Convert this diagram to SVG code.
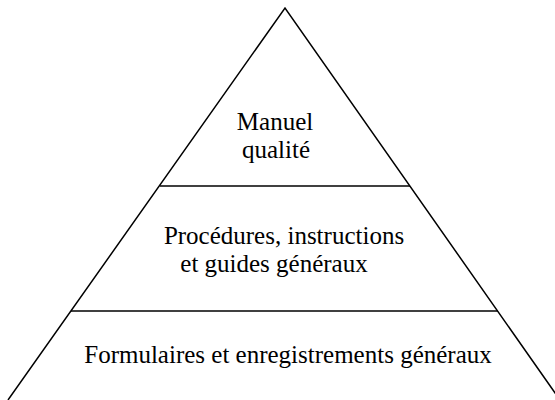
<svg xmlns="http://www.w3.org/2000/svg" width="555" height="400" viewBox="0 0 555 400">
<style>
.ln{stroke:#000;stroke-width:1.5;fill:none}
.t{font-family:'Liberation Serif','Times New Roman',serif;font-size:25px;fill:#000;text-anchor:middle}
</style>
<rect width="555" height="400" fill="#fff"/>
<g id="connectors">
<polyline class="ln" points="8,400 285,8 560,400"/>
<line class="ln" x1="160" y1="186" x2="410" y2="186"/>
<line class="ln" x1="71" y1="311" x2="498" y2="311"/>
</g>
<g id="top">
<text class="t" x="275" y="130">Manuel</text>
<text class="t" x="276" y="158">qualité</text>
</g>
<g id="middle">
<text class="t" x="284" y="244">Procédures, instructions</text>
<text class="t" x="274" y="272">et guides généraux</text>
</g>
<g id="bottom">
<text class="t" x="288" y="363">Formulaires et enregistrements généraux</text>
</g>
</svg>
